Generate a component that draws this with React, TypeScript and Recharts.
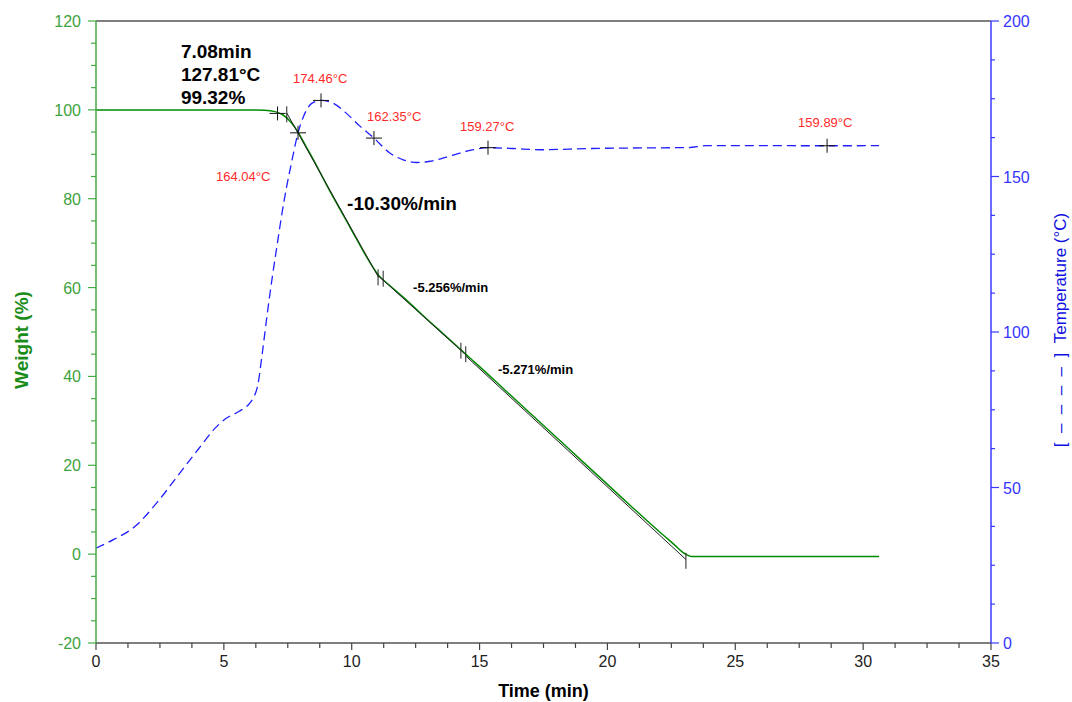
import React from 'react';
import { ComposedChart, Line, Scatter, XAxis, YAxis, ReferenceLine } from 'recharts';

const FONT = '"Liberation Sans", Arial, Helvetica, sans-serif';

// ---- Weight curve (time in min, weight in %)
const weightTime = [0, 6.0, 6.6, 7.0, 7.3, 7.6, 7.9, 8.2, 8.5, 9.0, 9.66, 10.0, 10.5, 11.03, 11.5, 12, 13, 14, 14.4, 15, 16, 17, 18, 19, 20, 21, 22, 22.6, 23.0, 23.3, 30.62];
const weightPct = [99.95, 99.95, 99.9, 99.6, 98.9, 97.4, 95.0, 91.9, 88.8, 83.3, 76.4, 72.9, 67.7, 62.9, 60.4, 57.9, 52.6, 47.4, 45.3, 42.2, 36.9, 31.6, 26.3, 21.0, 15.7, 10.4, 5.2, 2.2, 0.2, -0.55, -0.55];

// ---- Temperature curve (time in min, temperature in °C)
const tempTime = [0, 0.7, 1.5, 2.4, 3.2, 4.0, 4.65, 5.05, 5.6, 6.0, 6.15, 6.33, 6.5, 6.7, 6.9, 7.08, 7.25, 7.45, 7.66, 7.9, 8.1, 8.45, 8.8, 9.27, 9.74, 10.32, 10.87, 11.5, 12.04, 12.54, 13.06, 13.84, 14.63, 15.33, 16.3, 17.36, 19.3, 21.5, 23.15, 23.88, 26.0, 28.59, 30.62];
const tempC = [30.5, 33.3, 37.3, 45.3, 53.8, 62.3, 69.0, 72.0, 74.5, 77.0, 78.8, 83.0, 93.0, 106.0, 118.0, 127.81, 137.0, 146.5, 155.0, 164.04, 169.0, 173.6, 174.46, 173.6, 170.7, 166.2, 162.35, 157.5, 155.3, 154.5, 154.9, 156.6, 158.4, 159.27, 159.0, 158.6, 159.0, 159.2, 159.3, 159.9, 159.9, 159.89, 159.9];

// ---- Tangent (slope) segments on the weight curve
const tangentStartTime = [7.46, 11.05, 14.46];
const tangentStartPct = [99.3, 62.6, 44.6];
const tangentEndTime = [11.05, 14.4, 23.07];
const tangentEndPct = [62.3, 45.2, -1.2];

// ---- Markers
const weightCrossTime = [7.1];
const weightCrossPct = [99.2];
const tempCrossTime = [7.9, 8.8, 10.87, 15.33, 28.59];
const tempCrossC = [164.04, 174.46, 162.35, 159.27, 159.89];
const barTime = [7.46, 11.03, 11.23, 14.27, 14.46, 23.07];
const barPct = [99.0, 62.3, 62.0, 45.8, 45.0, -1.5];

// ---- Annotations
const slopeTime = [9.82, 12.4, 15.72];
const slopePct = [77.4, 58.9, 40.65];
const slopeText = ['-10.30%/min', '-5.256%/min', '-5.271%/min'];
const infoTime = [3.32];
const infoPct = [111.66];
const infoLines = ['7.08min', '127.81°C', '99.32%'];

// ---- Axis ticks
const xMajorTicks = [0, 5, 10, 15, 20, 25, 30, 35];
const wMajorTicks = [-20, 0, 20, 40, 60, 80, 100, 120];
const tMajorTicks = [0, 50, 100, 150, 200];

// styles (not data)
const tempLabelOffset = [[-82, 48], [-28, -17], [-7, -17], [-28, -16.5], [-29, -18.6]];
const slopeFontSize = [19, 13, 13];

const withMinor = (majors: number[], parts: number) => {
  const out: number[] = [];
  for (let i = 0; i < majors.length - 1; i++) {
    const step = (majors[i + 1] - majors[i]) / parts;
    for (let k = 0; k < parts; k++) out.push(majors[i] + k * step);
  }
  out.push(majors[majors.length - 1]);
  return out;
};
const xTicks = withMinor(xMajorTicks, 4);
const wTicks = withMinor(wMajorTicks, 4);
const tTicks = withMinor(tMajorTicks, 4);
const isMajor = (v: number, majors: number[]) => majors.some((m) => Math.abs(m - v) < 1e-6);

const weightData = weightTime.map((t, i) => ({ t, w: weightPct[i] }));
const tempData = tempTime.map((t, i) => ({ t, temp: tempC[i] }));
const tangents = tangentStartTime.map((t, i) => [
  { t, w: tangentStartPct[i] },
  { t: tangentEndTime[i], w: tangentEndPct[i] },
]);
const weightCrossData = weightCrossTime.map((t, i) => ({ t, w: weightCrossPct[i] }));
const tempCrossData = tempCrossTime.map((t, i) => ({ t, temp: tempCrossC[i], i, label: `${tempCrossC[i].toFixed(2)}°C` }));
const barData = barTime.map((t, i) => ({ t, w: barPct[i] }));
const slopeData = slopeTime.map((t, i) => ({ t, w: slopePct[i], i, text: slopeText[i] }));
const infoData = infoTime.map((t, i) => ({ t, w: infoPct[i] }));

const XTick = (p: any) => {
  const { x, y, payload } = p;
  const major = isMajor(payload.value, xMajorTicks);
  return (
    <g>
      <line x1={x} x2={x} y1={y} y2={y + (major ? 7 : 5)} stroke="#444" strokeWidth={1.2} />
      {major && (
        <text x={x} y={y + 24} textAnchor="middle" fontSize={16} fontFamily={FONT} fill="#222">
          {payload.value}
        </text>
      )}
    </g>
  );
};

const LeftTick = (p: any) => {
  const { x, y, payload } = p;
  const major = isMajor(payload.value, wMajorTicks);
  return (
    <g>
      <line x1={x - (major ? 8 : 5)} x2={x} y1={y} y2={y} stroke="#44aa44" strokeWidth={1.2} />
      {major && (
        <text x={x - 15} y={y + 6} textAnchor="end" fontSize={16} fontFamily={FONT} fill="#3ea23e">
          {payload.value}
        </text>
      )}
    </g>
  );
};

const RightTick = (p: any) => {
  const { x, y, payload } = p;
  const major = isMajor(payload.value, tMajorTicks);
  return (
    <g>
      <line x1={x} x2={x + (major ? 8 : 4)} y1={y} y2={y} stroke="#3b3bff" strokeWidth={1.2} />
      {major && (
        <text x={x + 12} y={y + 6} textAnchor="start" fontSize={16} fontFamily={FONT} fill="#3535ff">
          {payload.value}
        </text>
      )}
    </g>
  );
};

const Cross = (p: any) => {
  const { cx, cy } = p;
  return (
    <g>
      <line x1={cx - 8} x2={cx + 8} y1={cy} y2={cy} stroke="#111" strokeWidth={1} />
      <line x1={cx} x2={cx} y1={cy - 7} y2={cy + 7} stroke="#111" strokeWidth={1} />
    </g>
  );
};

const TempCross = (p: any) => {
  const { cx, cy, payload } = p;
  const [dx, dy] = tempLabelOffset[payload.i];
  return (
    <g>
      <line x1={cx - 8} x2={cx + 8} y1={cy} y2={cy} stroke="#111" strokeWidth={1} />
      <line x1={cx} x2={cx} y1={cy - 7} y2={cy + 7} stroke="#111" strokeWidth={1} />
      <text x={cx + dx} y={cy + dy} fontSize={13} fontFamily={FONT} fill="#ff2a2a">
        {payload.label}
      </text>
    </g>
  );
};

const Bar = (p: any) => {
  const { cx, cy } = p;
  return <line x1={cx} x2={cx} y1={cy - 8} y2={cy + 8} stroke="#222" strokeWidth={1} />;
};

const SlopeText = (p: any) => {
  const { cx, cy, payload } = p;
  return (
    <text x={cx} y={cy} fontSize={slopeFontSize[payload.i]} fontWeight="bold" fontFamily={FONT} fill="#000">
      {payload.text}
    </text>
  );
};

const InfoText = (p: any) => {
  const { cx, cy } = p;
  return (
    <g>
      {infoLines.map((s, k) => (
        <text key={k} x={cx} y={cy + k * 23} fontSize={19} fontWeight="bold" fontFamily={FONT} fill="#000">
          {s}
        </text>
      ))}
    </g>
  );
};

const leftTitle = (p: any) => {
  const vb = p.viewBox || { x: 0, y: 21, width: 96, height: 622 };
  const cy = vb.y + vb.height / 2 + 8;
  return (
    <text transform={`translate(28, ${cy}) rotate(-90)`} textAnchor="middle" fontSize={19} fontWeight="bold" fontFamily={FONT} fill="#1a8c1a">
      Weight (%)
    </text>
  );
};

const rightTitle = (p: any) => {
  const vb = p.viewBox || { x: 991, y: 21, width: 81, height: 622 };
  const cy = vb.y + vb.height / 2 - 2;
  const nb = '\u00a0\u00a0';
  return (
    <text transform={`translate(1066, ${cy}) rotate(-90)`} textAnchor="middle" fontSize={17} fontFamily={FONT} fill="#1010e0">
      {`[${nb}–${nb}–${nb}–${nb}–${nb}]${nb}Temperature (°C)`}
    </text>
  );
};

const bottomTitle = (p: any) => {
  const vb = p.viewBox || { x: 96, y: 643, width: 895, height: 59 };
  return (
    <text x={vb.x + vb.width / 2} y={697} textAnchor="middle" fontSize={18} fontWeight="bold" fontFamily={FONT} fill="#000">
      Time (min)
    </text>
  );
};

export default function App() {
  return (
    <div style={{ position: 'absolute', left: 0, top: 0, width: 1072, height: 702, background: '#fff' }}>
      <ComposedChart width={1072} height={702} margin={{ top: 21, right: 0, bottom: 0, left: 0 }}>
        <XAxis
          xAxisId="x"
          type="number"
          dataKey="t"
          domain={[0, 35]}
          ticks={xTicks}
          interval={0}
          height={59}
          tickLine={false}
          tickSize={0}
          tickMargin={0}
          tick={(p: any) => <XTick {...p} />}
          axisLine={{ stroke: '#555', strokeWidth: 1.5 }}
          allowDataOverflow
          label={{ content: bottomTitle }}
        />
        <YAxis
          yAxisId="w"
          orientation="left"
          type="number"
          domain={[-20, 120]}
          ticks={wTicks}
          interval={0}
          width={96}
          tickLine={false}
          tickSize={0}
          tickMargin={0}
          tick={(p: any) => <LeftTick {...p} />}
          axisLine={{ stroke: '#44aa44', strokeWidth: 1.5 }}
          allowDataOverflow
          label={{ content: leftTitle }}
        />
        <YAxis
          yAxisId="temp"
          orientation="right"
          type="number"
          domain={[0, 200]}
          ticks={tTicks}
          interval={0}
          width={81}
          tickLine={false}
          tickSize={0}
          tickMargin={0}
          tick={(p: any) => <RightTick {...p} />}
          axisLine={{ stroke: '#3b3bff', strokeWidth: 1.5 }}
          allowDataOverflow
          label={{ content: rightTitle }}
        />
        <ReferenceLine xAxisId="x" yAxisId="w" y={120} stroke="#555" strokeWidth={1.5} />
        <Line
          xAxisId="x"
          yAxisId="temp"
          data={tempData}
          dataKey="temp"
          type="monotone"
          stroke="#1f1fff"
          strokeWidth={1.3}
          strokeDasharray="9 5"
          dot={false}
          activeDot={false}
          isAnimationActive={false}
        />
        <Line
          xAxisId="x"
          yAxisId="w"
          data={weightData}
          dataKey="w"
          type="monotone"
          stroke="#008a00"
          strokeWidth={1.5}
          dot={false}
          activeDot={false}
          isAnimationActive={false}
        />
        {tangents.map((seg, k) => (
          <Line
            key={k}
            xAxisId="x"
            yAxisId="w"
            data={seg}
            dataKey="w"
            type="linear"
            stroke="#222"
            strokeWidth={1}
            dot={false}
            activeDot={false}
            isAnimationActive={false}
          />
        ))}
        <Scatter xAxisId="x" yAxisId="w" data={weightCrossData} dataKey="w" shape={Cross} isAnimationActive={false} />
        <Scatter xAxisId="x" yAxisId="w" data={barData} dataKey="w" shape={Bar} isAnimationActive={false} />
        <Scatter xAxisId="x" yAxisId="temp" data={tempCrossData} dataKey="temp" shape={TempCross} isAnimationActive={false} />
        <Scatter xAxisId="x" yAxisId="w" data={slopeData} dataKey="w" shape={SlopeText} isAnimationActive={false} />
        <Scatter xAxisId="x" yAxisId="w" data={infoData} dataKey="w" shape={InfoText} isAnimationActive={false} />
      </ComposedChart>
    </div>
  );
}
